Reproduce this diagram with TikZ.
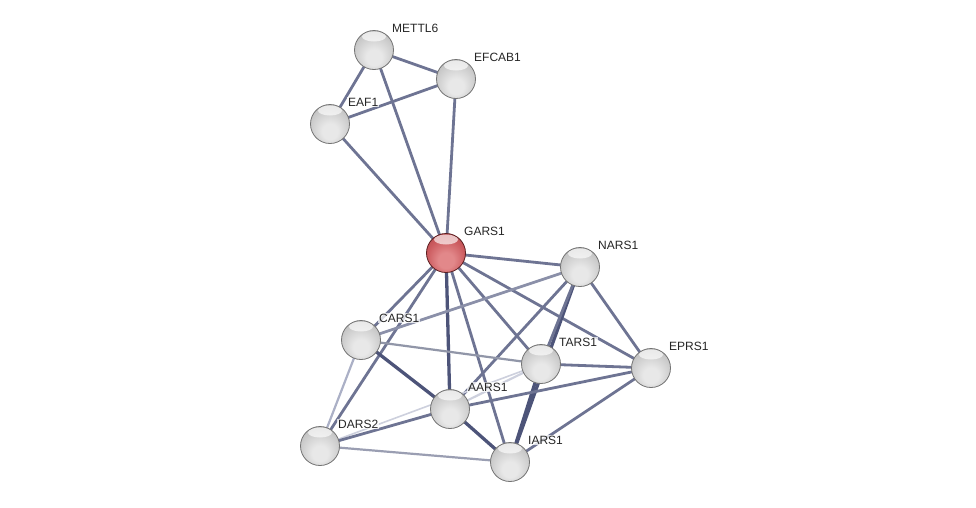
\documentclass[tikz,border=0pt]{standalone}
\usepackage{fontspec}
\setmainfont{Liberation Sans}
\usetikzlibrary{shadings}
\pgfdeclarelayer{background}
\pgfsetlayers{background,main}
\definecolor{gb0}{HTML}{E8E8E8}
\definecolor{gb1}{HTML}{CDCDCD}
\definecolor{gb2}{HTML}{BABABA}
\definecolor{gb3}{HTML}{9C9C9C}
\definecolor{rb0}{HTML}{E2888A}
\definecolor{rb1}{HTML}{CC5C60}
\definecolor{rb2}{HTML}{B84A4E}
\definecolor{rb3}{HTML}{963236}
\pgfdeclareradialshading{greyball}{\pgfpoint{0bp}{-12bp}}{color(0bp)=(gb0); color(10bp)=(gb0); color(24bp)=(gb1); color(33bp)=(gb2); color(40bp)=(gb3); color(50bp)=(gb3)}
\pgfdeclareradialshading{redball}{\pgfpoint{0bp}{-12bp}}{color(0bp)=(rb0); color(10bp)=(rb0); color(24bp)=(rb1); color(33bp)=(rb2); color(40bp)=(rb3); color(50bp)=(rb3)}
\tikzset{
  protein/.style={circle, minimum size=39pt, inner sep=0pt, draw=black!55, line width=0.8pt, shading=greyball,
    path picture={\fill[white, opacity=0.65] ([yshift=-6pt]path picture bounding box.north) ellipse (12pt and 5pt);}},
  query/.style={protein, shading=redball, draw=rb3!60!black},
  lbl/.style={anchor=west, font=\fontsize{12}{14}\selectfont, text=black!85, fill=white, fill opacity=0.75, text opacity=1, inner sep=1pt},
  e/.style={draw=ed1, line width=2.8pt},
  ed/.style={draw=ed2, line width=3.3pt},
  el/.style={draw=ed3, line width=2.2pt},
}
\definecolor{ed1}{HTML}{6E7493}
\definecolor{ed2}{HTML}{4D5479}
\definecolor{ed3}{HTML}{ABB0C6}
\begin{document}
\begin{tikzpicture}[x=1pt,y=1pt]
\useasboundingbox (0,0) rectangle (976,-507);
\node[protein] (METTL6) at (374,-50) {};
\node[protein] (EFCAB1) at (456,-79) {};
\node[protein] (EAF1) at (330,-124) {};
\node[query] (GARS1) at (446,-253) {};
\node[protein] (NARS1) at (580,-267) {};
\node[protein] (CARS1) at (361,-340) {};
\node[protein] (TARS1) at (541,-364) {};
\node[protein] (EPRS1) at (651,-368) {};
\node[protein] (AARS1) at (450,-409) {};
\node[protein] (DARS2) at (320,-446) {};
\node[protein] (IARS1) at (510,-462) {};
\foreach \n/\x/\y in {METTL6/374/50, EFCAB1/456/79, EAF1/330/124, GARS1/446/253, NARS1/580/267, CARS1/361/340, TARS1/541/364, EPRS1/651/368, AARS1/450/409, DARS2/320/446, IARS1/510/462}
  \node[lbl] (L\n) at (\x+17,-\y+22) {\n};
\begin{pgfonlayer}{background}
\draw[e] (METTL6.center) -- (EFCAB1.center);
\draw[e] (METTL6.center) -- (EAF1.center);
\draw[e] (METTL6.center) -- (GARS1.center);
\draw[e] (EFCAB1.center) -- (EAF1.center);
\draw[e] (EFCAB1.center) -- (GARS1.center);
\draw[e] (EAF1.center) -- (GARS1.center);
\draw[e] (GARS1.center) -- (NARS1.center);
\draw[e] (GARS1.center) -- (CARS1.center);
\draw[e] (GARS1.center) -- (DARS2.center);
\draw[ed] (GARS1.center) -- (AARS1.center);
\draw[e] (GARS1.center) -- (IARS1.center);
\draw[e] (GARS1.center) -- (TARS1.center);
\draw[e] (GARS1.center) -- (EPRS1.center);
\draw[e, draw=ed1!80!white] (NARS1.center) -- (CARS1.center);
\draw[e] (NARS1.center) -- (AARS1.center);
\draw[ed] (NARS1.center) -- (IARS1.center);
\draw[e] (NARS1.center) -- (TARS1.center);
\draw[e] (NARS1.center) -- (EPRS1.center);
\draw[el, draw=ed3!85!black] (CARS1.center) -- (TARS1.center);
\draw[ed] (CARS1.center) -- (AARS1.center);
\draw[el] (CARS1.center) -- (DARS2.center);
\draw[e] (TARS1.center) -- (EPRS1.center);
\draw[el, draw=ed3!60!white] (TARS1.center) -- (AARS1.center);
\draw[el, draw=ed3!60!white, line width=1.6pt] (TARS1.center) -- (DARS2.center);
\draw[ed] (TARS1.center) -- (IARS1.center);
\draw[e] (EPRS1.center) -- (AARS1.center);
\draw[e] (EPRS1.center) -- (IARS1.center);
\draw[e] (AARS1.center) -- (DARS2.center);
\draw[ed] (AARS1.center) -- (IARS1.center);
\draw[el, draw=ed3!90!black] (DARS2.center) -- (IARS1.center);
\end{pgfonlayer}
\end{tikzpicture}
\end{document}
